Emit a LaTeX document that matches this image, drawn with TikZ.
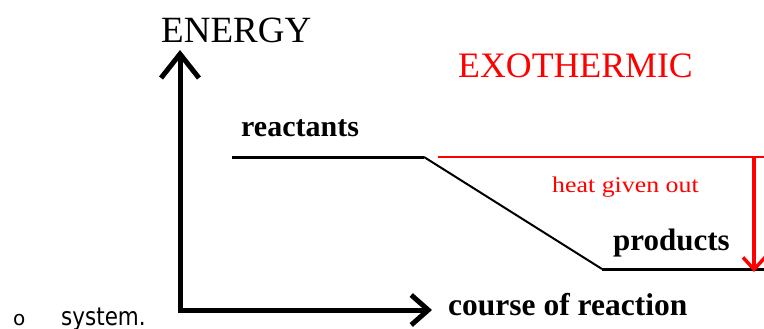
\documentclass[tikz,border=0pt]{standalone}
\usepackage{fontspec}
\setmainfont{Liberation Serif}
\newfontfamily\sysfont{DejaVu Sans}
\usetikzlibrary{arrows.meta}
\definecolor{heatred}{RGB}{255,0,0}
\tikzset{
  axis/.style={line width=5pt, line join=miter, line cap=rect},
  level/.style={line width=3pt},
  lbl/.style={anchor=base west, inner sep=0pt, font=\bfseries\fontsize{30}{30}\selectfont},
  redlbl/.style={anchor=base west, inner sep=0pt, text=heatred}
}
\begin{document}
\begin{tikzpicture}[x=1pt,y=-1pt]
\useasboundingbox (0,0) rectangle (764,329);
\clip (0,0) rectangle (764,329);
% axes
\coordinate (origin) at (180,310);
\coordinate (ytip) at (180,50);
\coordinate (xtip) at (432,310);
\draw[axis, -{Straight Barb[length=24pt,width=38pt]}] (origin) -- (ytip);
\draw[axis, -{Straight Barb[length=17pt,width=30pt]}] (origin) -- (xtip);
\node[anchor=base west, inner sep=0pt, font=\fontsize{37}{37}\selectfont] (energy) at (161,43) {ENERGY};
\node[lbl, font=\bfseries\fontsize{31.5}{31.5}\selectfont] (course) at (448,315) {course of reaction};
% energy profile
\coordinate (r1) at (232,157);
\coordinate (r2) at (424,157);
\coordinate (p1) at (602,269);
\coordinate (p2) at (764,269);
\draw[level] (r1) -- (r2);
\draw[line width=2pt] (r2) -- (p1);
\draw[level] (p1) -- (p2);
\node[lbl] (react) at (241,136) {reactants};
\node[lbl, font=\bfseries\fontsize{31}{31}\selectfont] (prod) at (613,250) {products};
% heat
\coordinate (h1) at (438,157);
\coordinate (h2) at (764,157);
\coordinate (htop) at (754,157);
\coordinate (hbot) at (754,272);
\draw[heatred, line width=1.3pt] (h1) -- (h2);
\draw[heatred, line width=3.5pt, -{Straight Barb[length=12pt,width=22pt]}] (htop) -- (hbot);
\node[redlbl, font=\fontsize{35.8}{35.8}\selectfont] (exo) at (458,78) {EXOTHERMIC};
\node[redlbl] (heat) at (552,193) {\scalebox{1.15}[1]{\fontsize{22.5}{22.5}\selectfont heat given out}};
% stray text
\node[anchor=base west, inner sep=0pt] (bullet) at (13,325) {\sysfont\fontsize{20}{20}\selectfont o};
\node[anchor=base west, inner sep=0pt] (sys) at (61,325) {\scalebox{0.86}[1]{\sysfont\fontsize{25}{25}\selectfont system.}};
\end{tikzpicture}
\end{document}
